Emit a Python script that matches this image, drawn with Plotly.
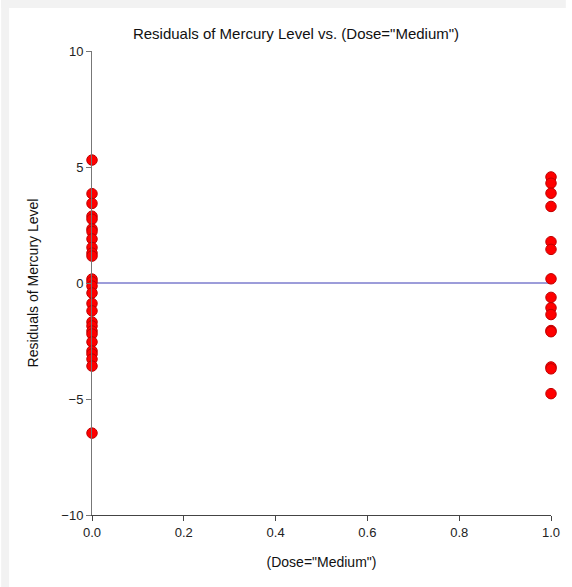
import plotly.graph_objects as go

# Residuals grouped by the indicator variable (Dose="Medium")
dose_medium_0 = [5.3, 3.85, 3.43, 2.88, 2.75, 2.33, 2.22, 1.9, 1.53, 1.29, 1.16,
                 0.17, 0.05, -0.13, -0.43, -0.88, -1.2, -1.68, -1.85, -2.07, -2.2,
                 -2.54, -2.93, -3.06, -3.28, -3.58, -6.47]
dose_medium_1 = [4.57, 4.3, 3.87, 3.3, 1.78, 1.45, 0.18, -0.62, -1.07, -1.36,
                 -2.05, -2.1, -3.62, -3.7, -4.77]

x_vals = [0.0] * len(dose_medium_0) + [1.0] * len(dose_medium_1)
y_vals = dose_medium_0 + dose_medium_1

x_ticks = [0.0, 0.2, 0.4, 0.6, 0.8, 1.0]
y_ticks = [-10, -5, 0, 5, 10]

W, H = 572, 587
ML, MR, MT, MB = 92, 15, 51, 72
pw, ph = W - ML - MR, H - MT - MB

fig = go.Figure()

# reference line at zero residual
fig.add_trace(go.Scatter(
    x=[0, 1], y=[0, 0], mode="lines",
    line=dict(color="#3a3ab4", width=1),
    hoverinfo="skip", showlegend=False,
))

fig.add_trace(go.Scatter(
    x=x_vals, y=y_vals, mode="markers",
    marker=dict(size=10.5, color="#ff0000", line=dict(color="#c00000", width=1)),
    cliponaxis=False, showlegend=False,
))

font_family = "Liberation Sans, Arial, sans-serif"

# light grey frame on the left and top edges of the page
fig.add_shape(type="rect", xref="paper", yref="paper", layer="below",
              x0=-ML / pw, x1=-(ML - 8) / pw, y0=-MB / ph, y1=1 + MT / ph,
              fillcolor="#f2f2f2", line_width=0)
fig.add_shape(type="rect", xref="paper", yref="paper", layer="below",
              x0=-ML / pw, x1=1 + MR / pw, y0=1 + (MT - 8) / ph, y1=1 + MT / ph,
              fillcolor="#f2f2f2", line_width=0)

fig.update_layout(
    width=W, height=H,
    margin=dict(l=ML, r=MR, t=MT, b=MB),
    paper_bgcolor="white", plot_bgcolor="white",
    font=dict(family=font_family, color="#111111"),
    title=dict(text='Residuals of Mercury Level vs. (Dose="Medium")',
               x=296 / W, xref="container", xanchor="center",
               y=1 - 34 / H, yref="container", yanchor="middle",
               font=dict(size=15, color="#111111")),
    xaxis=dict(
        range=[0, 1], tickvals=x_ticks, tickformat=".1f",
        showgrid=False, zeroline=False,
        showline=True, linecolor="#444444", linewidth=1,
        ticks="outside", ticklen=5, tickcolor="#444444",
        tickfont=dict(size=13, color="#222222"),
        title=dict(text='(Dose="Medium")', font=dict(size=14, color="#111111"), standoff=18),
    ),
    yaxis=dict(
        range=[-10, 10], tickvals=y_ticks,
        showgrid=False, zeroline=False,
        showline=True, linecolor="#777777", linewidth=1,
        ticks="outside", ticklen=5, tickcolor="#777777",
        tickfont=dict(size=13, color="#222222"),
        title=dict(text="Residuals of Mercury Level", font=dict(size=14, color="#111111"), standoff=19),
    ),
)

fig.write_html("out.html")
